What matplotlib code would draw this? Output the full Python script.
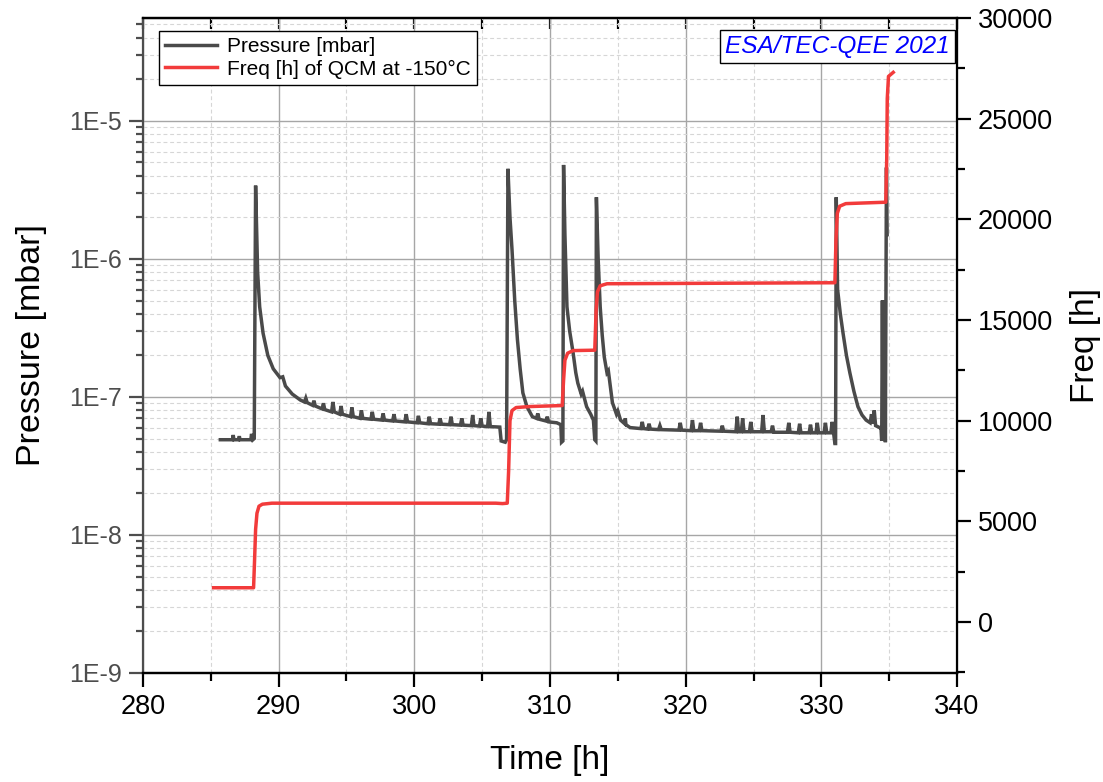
import matplotlib
matplotlib.use("Agg")
import matplotlib.pyplot as plt
from matplotlib.ticker import FuncFormatter, LogLocator, MultipleLocator, NullFormatter
import numpy as np

plt.rcParams['font.family'] = ['Liberation Sans', 'DejaVu Sans']

# ---- Pressure [mbar] vs time [h] ----
p_time = [285.7, 286.6, 286.65, 286.7, 287.05, 287.1, 287.15, 287.95, 288.0, 288.1, 288.2,
          288.3, 288.45, 288.6, 288.85, 289.2, 289.6, 290.1, 290.3, 290.5, 291.0, 291.6,
          291.9, 292.0, 292.1, 292.5, 292.6, 292.7, 293.2, 293.3, 293.4, 293.9, 294.0, 294.1,
          294.5, 294.6, 294.7, 295.3, 295.4, 295.5, 296.0, 296.1, 296.2, 296.8, 296.9, 297.0,
          297.6, 297.7, 297.8, 298.4, 298.5, 298.6, 299.3, 299.4, 299.5, 300.2, 300.3, 300.4,
          301.0, 301.1, 301.2, 301.8, 301.9, 302.0, 302.6, 302.7, 302.8, 303.4, 303.5, 303.6,
          304.2, 304.3, 304.4, 304.8, 304.9, 305.0, 305.4, 305.5, 305.6, 306.3, 306.4, 306.7,
          306.8, 306.9, 307.05, 307.2, 307.4, 307.6, 307.8, 308.0, 308.3, 308.7, 309.0, 309.1,
          309.2, 309.7, 309.8, 309.9, 310.5, 310.8, 310.85, 310.95, 311.0, 311.1, 311.25,
          311.45, 311.7, 311.9, 312.05, 312.3, 312.4, 312.7, 313.0, 313.2, 313.3, 313.38,
          313.42, 313.55, 313.7, 313.85, 314.0, 314.2, 314.3, 314.6, 314.9, 315.0, 315.2,
          315.5, 315.55, 315.6, 315.9, 316.7, 316.8, 316.9, 317.2, 317.3, 317.4, 318.0, 318.1,
          318.2, 319.5, 319.6, 319.7, 320.4, 320.5, 320.6, 321.0, 321.1, 321.2, 322.6, 322.7,
          322.8, 323.7, 323.8, 323.9, 324.1, 324.2, 324.3, 324.7, 324.8, 324.9, 325.6, 325.7,
          325.8, 326.3, 326.4, 326.5, 327.5, 327.6, 327.7, 328.3, 328.4, 328.5, 329.1, 329.2,
          329.3, 329.6, 329.7, 329.8, 330.2, 330.3, 330.4, 330.7, 330.8, 330.9, 331.0, 331.05,
          331.1, 331.2, 331.4, 331.6, 331.85, 332.1, 332.4, 332.7, 333.0, 333.3, 333.6, 333.7,
          333.8, 333.9, 334.0, 334.3, 334.4, 334.45, 334.5, 334.55, 334.6, 334.65, 334.7,
          334.72, 334.8, 334.85]
pressure = [4.9e-8, 4.9e-8, 5.3e-8, 4.9e-8, 4.9e-8, 5.2e-8, 4.9e-8, 4.9e-8, 5.4e-8, 4.9e-8, 5.0e-8,
            3.4e-6, 8e-7, 4.5e-7, 2.9e-7, 2.0e-7, 1.6e-7, 1.38e-7, 1.4e-7, 1.2e-7, 1.05e-7, 9.5e-8,
            9.2e-8, 9.8e-8, 9.1e-8, 8.7e-8, 9.4e-8, 8.6e-8, 8.2e-8, 9.0e-8, 8.1e-8, 7.8e-8, 9.2e-8, 7.8e-8,
            7.5e-8, 8.6e-8, 7.5e-8, 7.2e-8, 8.4e-8, 7.2e-8, 7.0e-8, 8.0e-8, 7.0e-8, 6.9e-8, 7.8e-8, 6.9e-8,
            6.8e-8, 7.6e-8, 6.8e-8, 6.7e-8, 7.5e-8, 6.7e-8, 6.6e-8, 7.5e-8, 6.6e-8, 6.5e-8, 7.3e-8, 6.5e-8,
            6.4e-8, 7.2e-8, 6.4e-8, 6.35e-8, 7.0e-8, 6.35e-8, 6.3e-8, 7.2e-8, 6.3e-8, 6.25e-8, 7.0e-8, 6.25e-8,
            6.2e-8, 7.4e-8, 6.2e-8, 6.15e-8, 7.0e-8, 6.15e-8, 6.1e-8, 7.8e-8, 6.1e-8, 6.05e-8, 4.8e-8, 4.7e-8,
            4.9e-8, 4.5e-6, 2.0e-6, 1.17e-6, 5e-7, 2.6e-7, 1.6e-7, 1.07e-7, 8.5e-8, 7.2e-8, 7.0e-8, 7.6e-8,
            6.9e-8, 6.7e-8, 7.2e-8, 6.6e-8, 6.5e-8, 6.3e-8, 4.7e-8, 4.8e-8, 4.8e-6, 1.5e-6, 4.5e-7,
            3.0e-7, 2.1e-7, 1.5e-7, 1.26e-7, 1.05e-7, 1.1e-7, 8.5e-8, 7.5e-8, 6.8e-8, 4.9e-8, 4.8e-8,
            2.8e-6, 1.0e-6, 4.5e-7, 2.8e-7, 1.95e-7, 1.5e-7, 1.55e-7, 9.1e-8, 7.5e-8, 7.9e-8, 6.8e-8,
            6.4e-8, 7.0e-8, 6.3e-8, 6.0e-8, 5.9e-8, 6.6e-8, 5.9e-8, 5.85e-8, 6.4e-8, 5.85e-8, 5.8e-8, 6.2e-8,
            5.8e-8, 5.75e-8, 6.5e-8, 5.75e-8, 5.7e-8, 6.8e-8, 5.7e-8, 5.7e-8, 6.5e-8, 5.7e-8, 5.65e-8, 6.2e-8,
            5.65e-8, 5.6e-8, 7.2e-8, 5.6e-8, 5.6e-8, 7.0e-8, 5.6e-8, 5.6e-8, 6.6e-8, 5.6e-8, 5.6e-8, 7.4e-8,
            5.6e-8, 5.6e-8, 6.2e-8, 5.55e-8, 5.55e-8, 6.5e-8, 5.55e-8, 5.5e-8, 6.4e-8, 5.5e-8, 5.5e-8, 6.3e-8,
            5.5e-8, 5.5e-8, 6.5e-8, 5.5e-8, 5.5e-8, 6.5e-8, 5.5e-8, 5.5e-8, 6.6e-8, 5.5e-8, 4.6e-8, 4.6e-8,
            2.8e-6, 6e-7, 4e-7, 2.9e-7, 2.0e-7, 1.5e-7, 1.1e-7, 8.5e-8, 7.4e-8, 6.8e-8, 6.5e-8, 7.5e-8,
            6.4e-8, 8.0e-8, 6.2e-8, 6.0e-8, 5.9e-8, 4.8e-8, 5e-7, 4.8e-8, 5e-7, 4.8e-8, 5e-7,
            4.7e-8, 4.6e-6, 1.5e-6]

# ---- Frequency [h] of QCM at -150 °C ----
f_time = [285.2, 288.15, 288.22, 288.3, 288.4, 288.55, 288.8, 289.5, 306.0, 306.5, 306.85,
          306.95, 307.05, 307.2, 307.5, 308.5, 310.9, 311.0, 311.1, 311.3, 311.7, 313.3,
          313.4, 313.5, 313.7, 314.2, 331.0, 331.08, 331.18, 331.35, 331.8, 334.75,
          334.82, 334.86, 334.95, 335.3]
freq = [1700, 1700, 3000, 4600, 5400, 5750, 5850, 5900, 5900, 5880, 5900,
        7500, 10000, 10500, 10650, 10700, 10750, 12000, 13000, 13350, 13480, 13500,
        15500, 16400, 16700, 16800, 16850, 19000, 20300, 20650, 20780, 20850,
        23000, 26000, 27100, 27300]

x_ticks = [280, 290, 300, 310, 320, 330, 340]
left_ticks = [1e-9, 1e-8, 1e-7, 1e-6, 1e-5]
right_ticks = [0, 5000, 10000, 15000, 20000, 25000, 30000]

gray = '#4a4a4a'
red = '#f23b3b'
left_col = '#4d4d4d'

fig = plt.figure(figsize=(11.03, 7.82), dpi=100)
ax = fig.add_axes([143/1103, 109/782, 814/1103, 655/782])
ax2 = ax.twinx()

ln1, = ax.plot(p_time, pressure, color=gray, lw=2.5, solid_joinstyle='miter', zorder=3)
ln2, = ax2.plot(f_time, freq, color=red, lw=2.5, zorder=3)

ax.set_yscale('log')
ax.set_xlim(280, 340)
ax.set_ylim(1e-9, 5.57e-5)
ax2.set_ylim(-2535, 30000)

ax.set_xticks(x_ticks)
ax.xaxis.set_minor_locator(MultipleLocator(5))
ax.set_yticks(left_ticks)
ax.yaxis.set_minor_locator(LogLocator(base=10, subs=np.arange(2, 10)))
ax.yaxis.set_minor_formatter(NullFormatter())
ax.yaxis.set_major_formatter(FuncFormatter(lambda v, p: '1E%d' % int(round(np.log10(v)))))
ax2.set_yticks(right_ticks)
ax2.yaxis.set_minor_locator(MultipleLocator(2500))

ax.grid(which='major', color='#a6a6a6', lw=1.0, ls='-')
ax.grid(which='minor', color='#d6d6d6', lw=0.8, ls=(0, (3.5, 2.5)))
ax.set_axisbelow(True)

ax.tick_params(axis='x', which='major', direction='out', length=10, width=1.6, labelsize=19.5, pad=5, colors='black')
ax.tick_params(axis='x', which='minor', direction='out', length=6, width=1.6)
ax.tick_params(axis='y', which='major', direction='out', length=10, width=1.6, labelsize=18,
               colors=left_col, labelcolor=left_col, pad=5)
ax.tick_params(axis='y', which='minor', direction='out', length=5, width=1.6, colors=left_col)
ax2.tick_params(axis='y', which='major', direction='out', length=10, width=1.6, labelsize=19.5, pad=5)
ax2.tick_params(axis='y', which='minor', direction='out', length=6, width=1.6)

# top axis with inward ticks
top = ax.secondary_xaxis('top')
top.set_xticks(x_ticks)
top.xaxis.set_minor_locator(MultipleLocator(5))
top.tick_params(axis='x', which='both', direction='in', length=8, width=1.6, labeltop=False)
top.spines['top'].set_linewidth(1.6)

for s in ['bottom', 'top', 'right']:
    ax2.spines[s].set_linewidth(1.6)
    ax2.spines[s].set_color('black')
ax2.spines['left'].set_visible(False)
ax.spines['left'].set_color(left_col)
ax.spines['left'].set_linewidth(1.6)
ax.spines['bottom'].set_linewidth(1.6)

ax.set_xlabel('Time [h]', fontsize=24, labelpad=18)
ax.set_ylabel('Pressure [mbar]', fontsize=24.5, labelpad=16)
ax2.set_ylabel('Freq [h]', fontsize=24, labelpad=12)

leg = ax2.legend([ln1, ln2], ['Pressure [mbar]', 'Freq [h] of QCM at -150°C'],
                 loc='upper left', bbox_to_anchor=(0.0195, 0.98), borderaxespad=0,
                 fontsize=15.0, frameon=True, fancybox=False, framealpha=1,
                 handlelength=2.5, handletextpad=0.45, labelspacing=0.15,
                 borderpad=0.3)
leg.get_frame().set_edgecolor('black')
leg.get_frame().set_linewidth(1.0)

ax2.text(0.991, 0.974, 'ESA/TEC-QEE 2021', transform=ax.transAxes, ha='right', va='top',
         fontsize=17.6, style='italic', color='#0000ff',
         bbox=dict(boxstyle='square,pad=0.22', facecolor='white', edgecolor='black', lw=1.0),
         zorder=10)

fig.savefig('out.png', dpi=100)
